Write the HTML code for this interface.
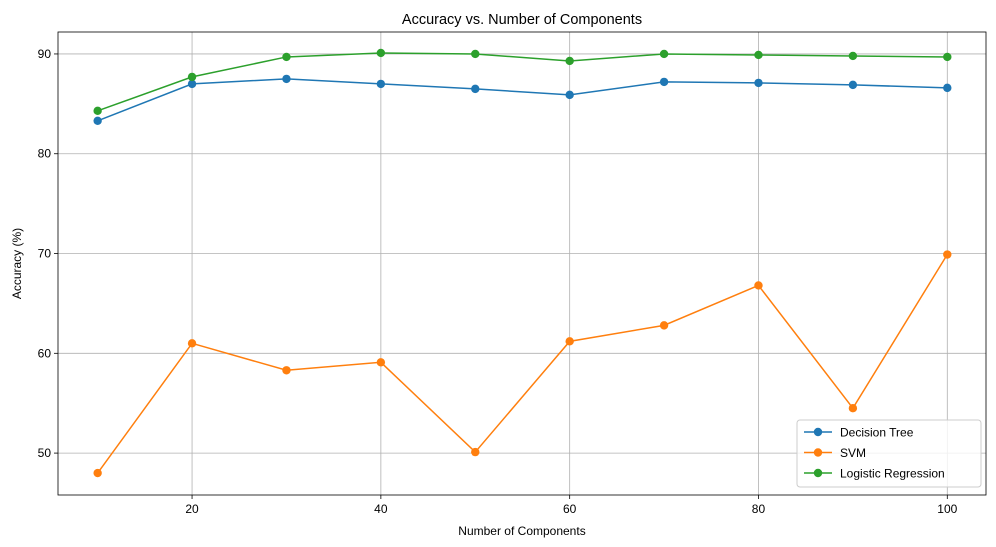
<!DOCTYPE html>
<html><head><meta charset="utf-8"><style>
body{margin:0;background:#fff;}
svg{display:block;font-family:"Liberation Sans","DejaVu Sans",sans-serif;}
</style></head><body>
<svg id="chart" width="996" height="547" xmlns="http://www.w3.org/2000/svg"></svg>
<script>
const components = [10,20,30,40,50,60,70,80,90,100];
const decisionTree = [83.3,87.0,87.5,87.0,86.5,85.9,87.2,87.1,86.9,86.6];
const svm = [48.0,61.0,58.3,59.1,50.1,61.2,62.8,66.8,54.5,69.9];
const logisticRegression = [84.3,87.7,89.7,90.1,90.0,89.3,90.0,89.9,89.8,89.7];
const xTicks = [20,40,60,80,100];
const yTicks = [50,60,70,80,90];
const seriesNames = ["Decision Tree","SVM","Logistic Regression"];

const L=58,R=986,T=32,B=495;
const xMin=5.8,xMax=104.1,yMin=45.8,yMax=92.2;
const xs=v=>L+(v-xMin)/(xMax-xMin)*(R-L);
const ys=v=>B-(v-yMin)/(yMax-yMin)*(B-T);
const NS="http://www.w3.org/2000/svg";
const svg=document.getElementById('chart');
function mk(tag,attrs,parent){const e=document.createElementNS(NS,tag);for(const k in attrs)e.setAttribute(k,attrs[k]);(parent||svg).appendChild(e);return e;}

// grid
xTicks.forEach(t=>{const l=mk('line',{x1:xs(t),x2:xs(t),y1:T,y2:B,stroke:'#b0b0b0','stroke-width':0.8});

});
yTicks.forEach(t=>{const l=mk('line',{x1:L,x2:R,y1:ys(t),y2:ys(t),stroke:'#b0b0b0','stroke-width':0.8});

});

// series
const colors=['#1f77b4','#ff7f0e','#2ca02c'];
const data=[decisionTree,svm,logisticRegression];
const keys=['decision-tree','svm','logistic-regression'];
data.forEach((arr,i)=>{
  const g=mk('g',{});
  
  
  const pts=arr.map((v,j)=>xs(components[j])+','+ys(v)).join(' ');
  const pl=mk('polyline',{points:pts,fill:'none',stroke:colors[i],'stroke-width':1.5},g);
  
  
  arr.forEach((v,j)=>{const c=mk('circle',{cx:xs(components[j]),cy:ys(v),r:4.2,fill:colors[i]},g);
    
    });
});

// axes frame
const fr=mk('rect',{x:L,y:T,width:R-L,height:B-T,fill:'none',stroke:'#000','stroke-width':0.8});



xTicks.forEach(t=>{mk('line',{x1:xs(t),x2:xs(t),y1:B,y2:B+4,stroke:'#000','stroke-width':0.8});
  const tx=mk('text',{x:xs(t),y:B+18,'text-anchor':'middle','font-size':12,fill:'#000'});tx.textContent=t;
  
  });
yTicks.forEach(t=>{mk('line',{x1:L-4,x2:L,y1:ys(t),y2:ys(t),stroke:'#000','stroke-width':0.8});
  const tx=mk('text',{x:L-7,y:ys(t)+4,'text-anchor':'end','font-size':12,fill:'#000'});tx.textContent=t;
  
  });

const title=mk('text',{x:(L+R)/2,y:24,'text-anchor':'middle','font-size':14.5,fill:'#000'});title.textContent='Accuracy vs. Number of Components';


const xl=mk('text',{x:(L+R)/2,y:535,'text-anchor':'middle','font-size':12,fill:'#000'});xl.textContent='Number of Components';


const yl=mk('text',{x:0,y:0,'text-anchor':'middle','font-size':12,fill:'#000',transform:'translate(21,'+((T+B)/2)+') rotate(-90)'});yl.textContent='Accuracy (%)';



// legend
const lg=mk('g',{});


mk('rect',{x:797,y:420,width:184,height:67,rx:3,fill:'#fff','fill-opacity':0.8,stroke:'#ccc'},lg);
seriesNames.forEach((n,i)=>{
  const y=432+i*20.5;
  const e=mk('g',{},lg);
  
  
  mk('line',{x1:804,x2:832,y1:y,y2:y,stroke:colors[i],'stroke-width':1.5},e);
  mk('circle',{cx:818,cy:y,r:4.2,fill:colors[i]},e);
  const t=mk('text',{x:840,y:y+4.5,'font-size':12,fill:'#000'},e);t.textContent=n;
});
</script>
</body></html>
